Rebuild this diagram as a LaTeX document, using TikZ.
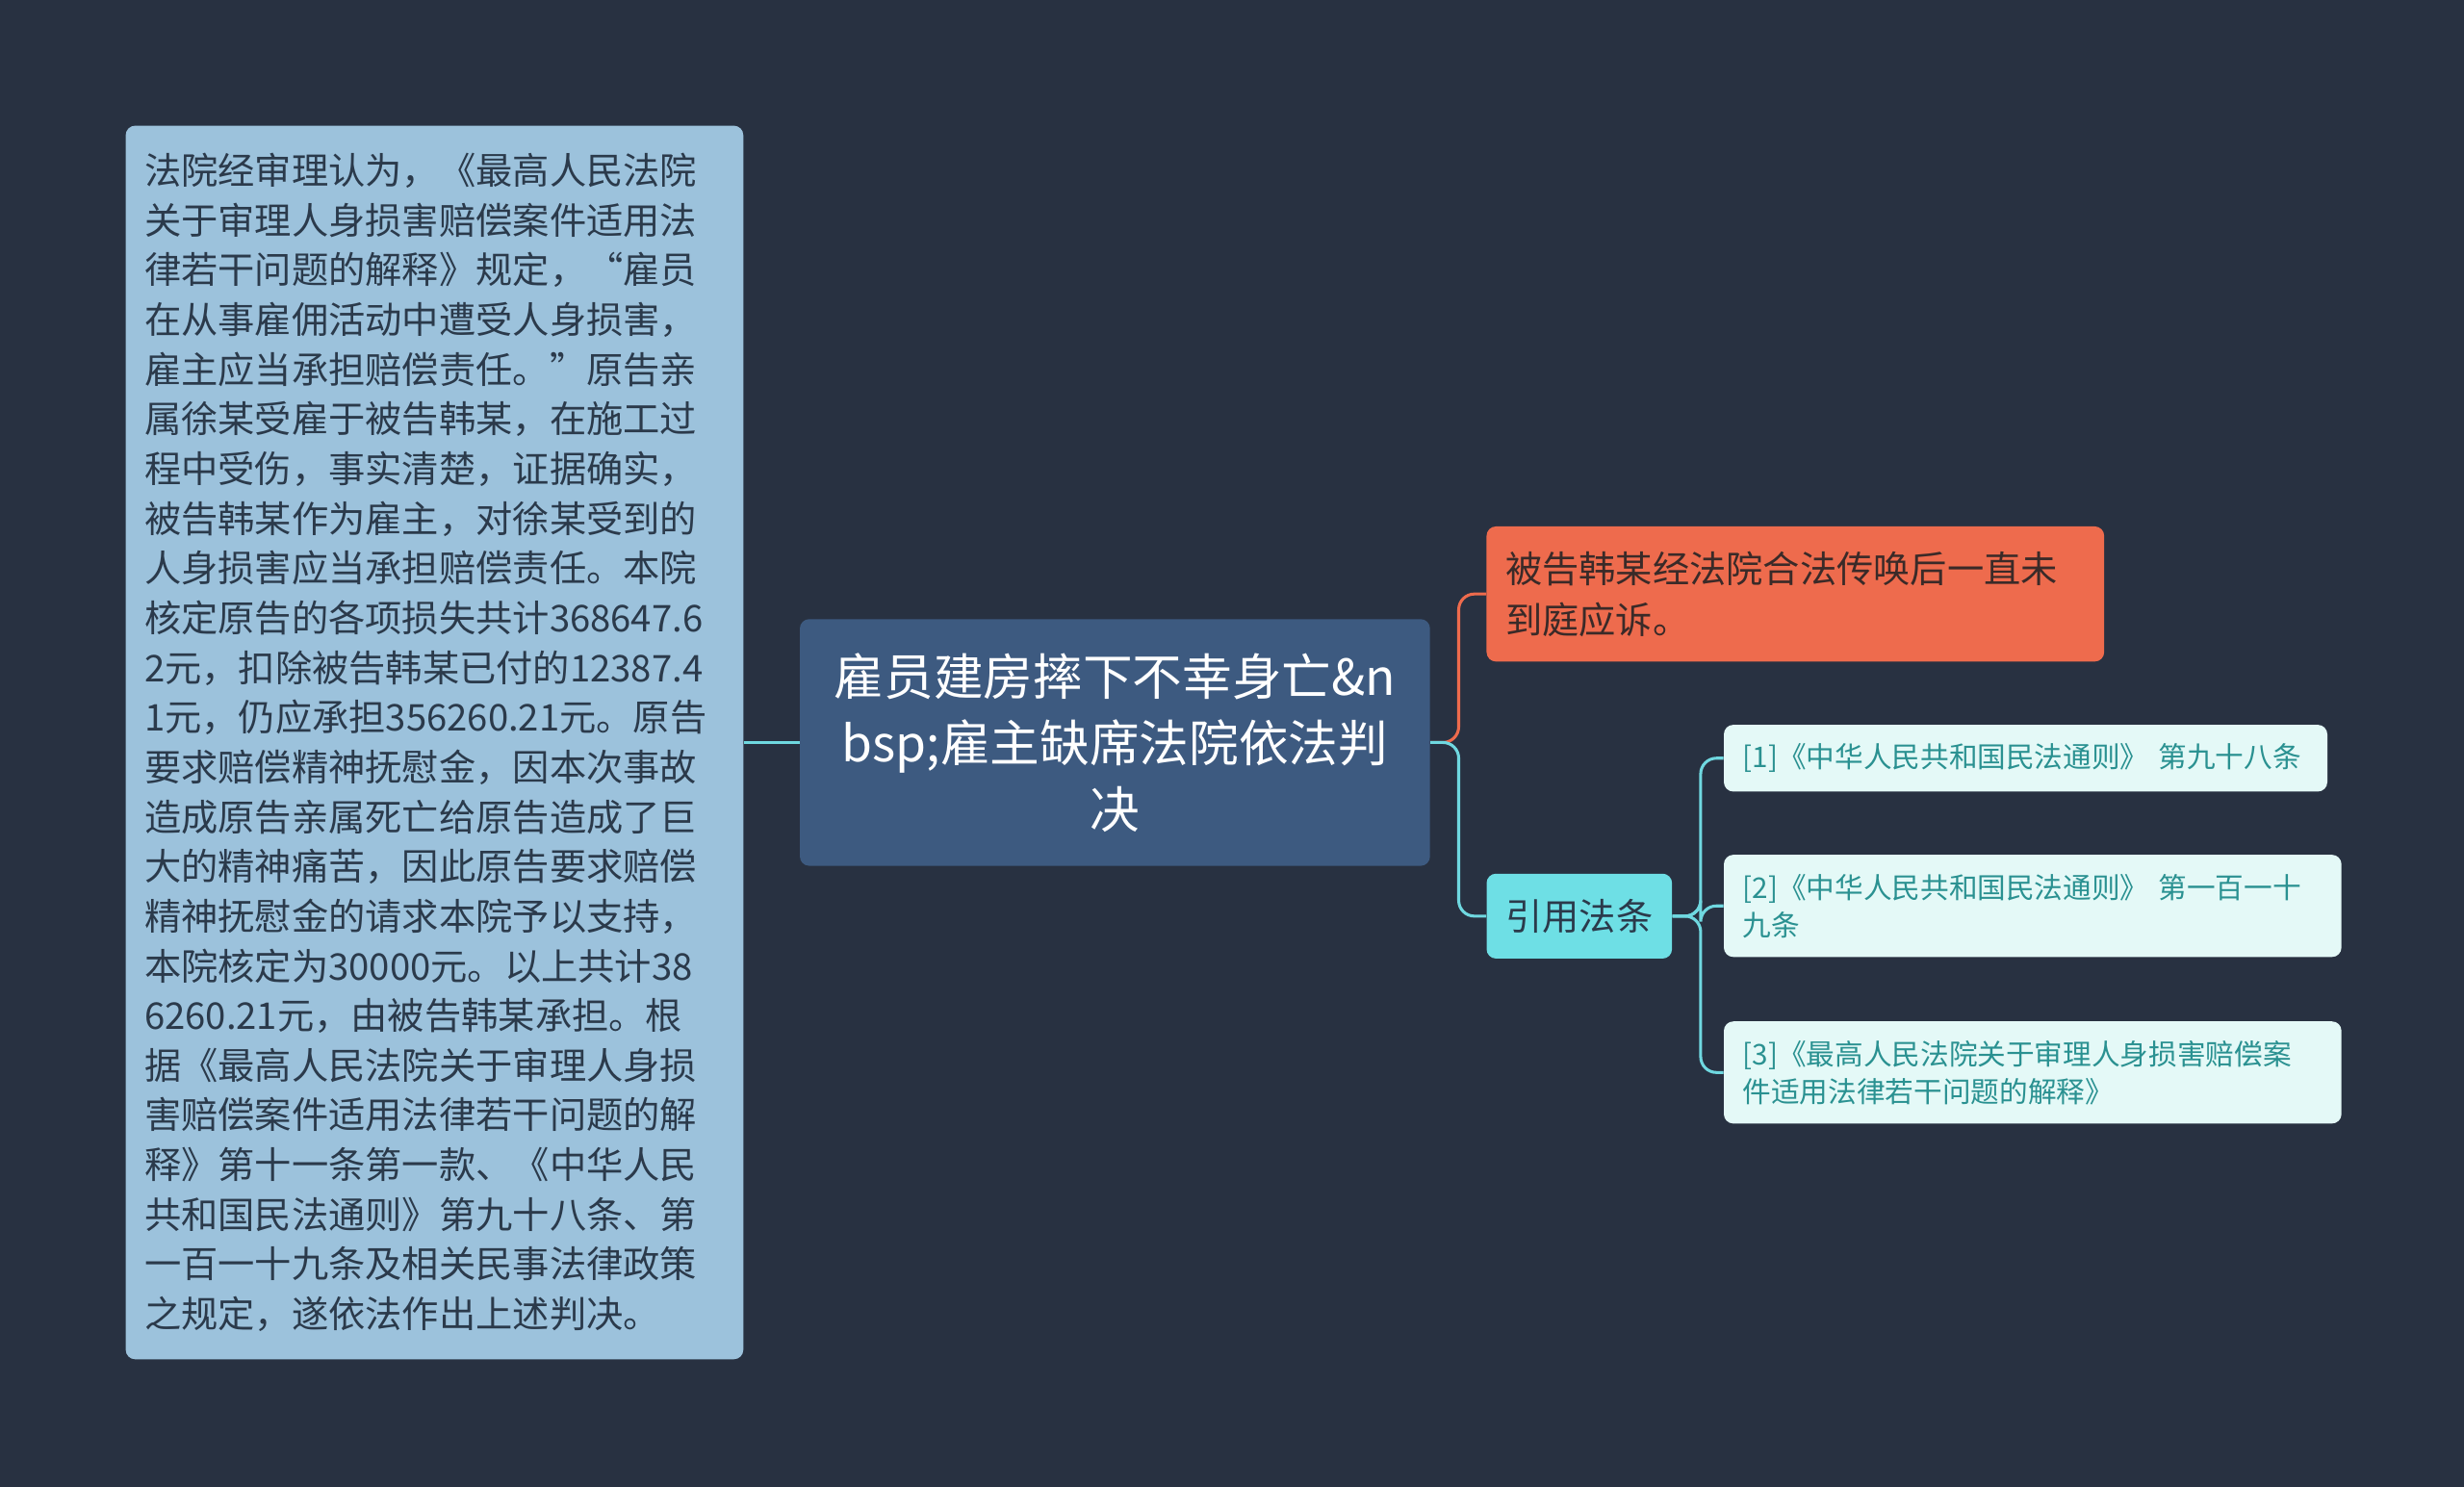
\documentclass[tikz,border=0pt]{standalone}
\usepackage{fontspec}
\setmainfont{Noto Sans CJK SC}
\definecolor{bg}{HTML}{283141}
\definecolor{lbox}{HTML}{9CC2DC}
\definecolor{ltext}{HTML}{2B3A4B}
\definecolor{cbox}{HTML}{3D5A80}
\definecolor{obox}{HTML}{EE6B4D}
\definecolor{otext}{HTML}{3A2A28}
\definecolor{cyanbox}{HTML}{6EDFE5}
\definecolor{refbox}{HTML}{E4F9F7}
\definecolor{reftext}{HTML}{2A9191}
\definecolor{cline}{HTML}{6FD8E0}
\definecolor{oline}{HTML}{EE6B4D}
\begin{document}
\begin{tikzpicture}[x=0.03cm,y=-0.03cm,
  box/.style={rounded corners=0.18cm,inner sep=0.36cm,anchor=center},
  conn/.style={line width=1.6pt,rounded corners=0.3cm}]
\fill[bg] (0,0) rectangle (1568,946);
\useasboundingbox (0,0) rectangle (1568,946);
\node[box,fill=lbox,text=ltext,minimum width=11.79cm,minimum height=23.55cm,text width=11.07cm,align=left,font=\fontsize{20}{27}\selectfont] (L) at (276.5,472.5) {法院经审理认为，《最高人民法院\\关于审理人身损害赔偿案件适用法\\律若干问题的解释》规定，“雇员\\在从事雇佣活动中遭受人身损害，\\雇主应当承担赔偿责任。”原告亲\\属徐某受雇于被告韩某，在施工过\\程中受伤，事实清楚，证据确实，\\被告韩某作为雇主，对徐某受到的\\人身损害应当承担赔偿责任。本院\\核定原告的各项损失共计368647.6\\2元，扣除被告韩某已付的12387.4\\1元，仍应承担356260.21元。原告\\要求赔偿精神抚慰金，因本次事故\\造成原告亲属死亡给原告造成了巨\\大的精神痛苦，因此原告要求赔偿\\精神抚慰金的请求本院予以支持，\\本院核定为30000元。以上共计38\\6260.21元，由被告韩某承担。根\\据《最高人民法院关于审理人身损\\害赔偿案件适用法律若干问题的解\\释》第十一条第一款、《中华人民\\共和国民法通则》第九十八条、第\\一百一十九条及相关民事法律政策\\之规定，遂依法作出上述判决。};
\node[box,fill=cbox,text=white,minimum width=12.03cm,minimum height=4.71cm,text width=11.3cm,align=center,font=\fontsize{27}{36}\selectfont] (C) at (709.5,472.5) {雇员建房摔下不幸身亡\&n\\bsp;雇主缺席法院依法判\\决};
\node[box,fill=obox,text=otext,minimum width=11.79cm,minimum height=2.58cm,text width=11.07cm,align=left,font=\fontsize{20}{27.5}\selectfont] (O) at (1142.5,378) {被告韩某经法院合法传唤后一直未\\到庭应诉。};
\node[box,fill=cyanbox,text=ltext,minimum width=3.54cm,minimum height=1.62cm,font=\fontsize{20}{24}\selectfont] (Y) at (1005,583) {引用法条};
\node[box,fill=refbox,text=reftext,minimum width=11.4cm,minimum height=1.23cm,text width=10.8cm,align=left,font=\fontsize{15.5}{20.4}\selectfont] (R1) at (1289,482.5) {[1]《中华人民共和国民法通则》 第九十八条};
\node[box,fill=refbox,text=reftext,minimum width=11.67cm,minimum height=1.95cm,text width=11.07cm,align=left,font=\fontsize{15.5}{20.4}\selectfont] (R2) at (1293.5,576.5) {[2]《中华人民共和国民法通则》 第一百一十\\九条};
\node[box,fill=refbox,text=reftext,minimum width=11.67cm,minimum height=1.95cm,text width=11.07cm,align=left,font=\fontsize{15.5}{20.4}\selectfont] (R3) at (1293.5,682.5) {[3]《最高人民法院关于审理人身损害赔偿案\\件适用法律若干问题的解释》};
\draw[conn,cline] (L.east) -- (C.west);
\draw[conn,oline] (C.east) -- ++(18,0) |- (O.west);
\draw[conn,cline] (C.east) -- ++(18,0) |- (Y.west);
\draw[conn,cline] (Y.east) -- ++(18,0) |- (R1.west);
\draw[conn,cline] (Y.east) -- ++(18,0) |- (R2.west);
\draw[conn,cline] (Y.east) -- ++(18,0) |- (R3.west);
\end{tikzpicture}
\end{document}
